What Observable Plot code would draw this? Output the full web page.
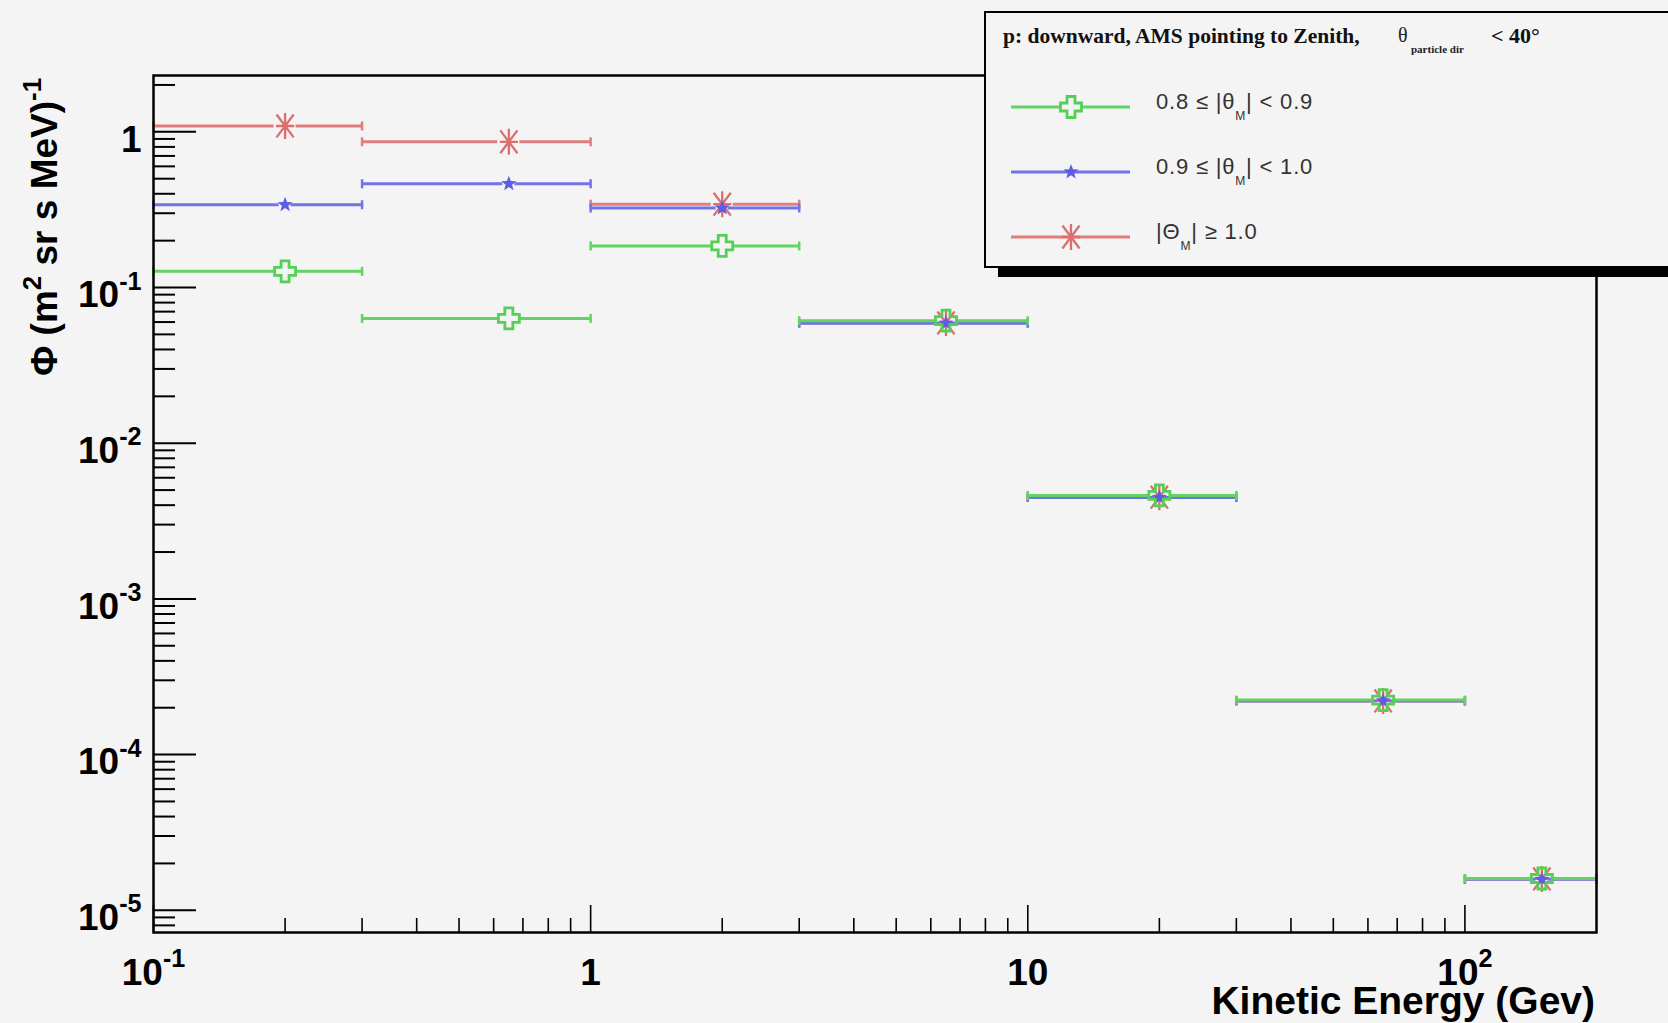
<!DOCTYPE html>
<html>
<head>
<meta charset="utf-8">
<script src="https://cdn.jsdelivr.net/npm/d3@7"></script>
<script src="https://cdn.jsdelivr.net/npm/@observablehq/plot@0.6"></script>
<style>
html,body{margin:0;padding:0;background:#f4f4f4;}
body{width:1668px;height:1023px;overflow:hidden;}
#chart svg{display:block;}
</style>
</head>
<body>
<div id="chart"></div>
<script>
// ---------------- data ----------------
const binLow    = [0.1, 0.3, 1, 3, 10, 30, 100];
const binHigh   = [0.3, 1, 3, 10, 30, 100, 200];
const binCenter = [0.2, 0.65, 2, 6.5, 20, 65, 150];

const fluxGreen = [0.127, 0.0633, 0.185, 0.0612, 0.00462, 2.24e-4, 1.60e-5];
const fluxBlue  = [0.340, 0.464, 0.324, 0.0590, 0.00448, 2.21e-4, 1.58e-5];
const fluxRed   = [1.09, 0.863, 0.343, 0.0592, 0.00450, 2.21e-4, 1.59e-5];

const seriesLabels = ["0.8 \u2264 |\u03b8_{M}| < 0.9", "0.9 \u2264 |\u03b8_{M}| < 1.0", "|\u0398_{M}| \u2265 1.0"];
const legendTitle = "p: downward, AMS pointing to Zenith,";
const legendCut = ["\u03b8", "particle dir", "< 40\u00b0"];

const xMajorTicks = [0.1, 1, 10, 100];
const xTickLabels = ["10^{-1}", "1", "10", "10^{2}"];
const xMinorTicks = [0.2, 0.3, 0.4, 0.5, 0.6, 0.7, 0.8, 0.9, 2, 3, 4, 5, 6, 7, 8, 9, 20, 30, 40, 50, 60, 70, 80, 90];
const yMajorTicks = [1e-5, 1e-4, 1e-3, 1e-2, 1e-1, 1];
const yTickLabels = ["10^{-5}", "10^{-4}", "10^{-3}", "10^{-2}", "10^{-1}", "1"];
const yMinorTicks = [8e-6, 9e-6,
  2e-5, 3e-5, 4e-5, 5e-5, 6e-5, 7e-5, 8e-5, 9e-5,
  2e-4, 3e-4, 4e-4, 5e-4, 6e-4, 7e-4, 8e-4, 9e-4,
  2e-3, 3e-3, 4e-3, 5e-3, 6e-3, 7e-3, 8e-3, 9e-3,
  2e-2, 3e-2, 4e-2, 5e-2, 6e-2, 7e-2, 8e-2, 9e-2,
  0.2, 0.3, 0.4, 0.5, 0.6, 0.7, 0.8, 0.9, 2];
const xTitle = "Kinetic Energy (Gev)";
const yTitle = "\u03a6 (m^{2} sr s MeV)^{-1}";

// ---------------- symbols ----------------
const rOf = (size) => Math.sqrt(size / Math.PI);
const capSymbol = {draw(c, s) { const r = rOf(s); c.moveTo(0, -r); c.lineTo(0, r); }};
const openCross = {draw(c, s) { const r = rOf(s), a = 0.38 * r;
  c.moveTo(-a, -r); c.lineTo(a, -r); c.lineTo(a, -a); c.lineTo(r, -a); c.lineTo(r, a); c.lineTo(a, a);
  c.lineTo(a, r); c.lineTo(-a, r); c.lineTo(-a, a); c.lineTo(-r, a); c.lineTo(-r, -a); c.lineTo(-a, -a); c.closePath(); }};
const star5 = {draw(c, s) { const r = rOf(s), ri = 0.42 * r;
  for (let i = 0; i < 10; i++) { const ang = -Math.PI / 2 + i * Math.PI / 5, rr = i % 2 ? ri : r;
    const x = rr * Math.cos(ang), y = rr * Math.sin(ang); if (i) c.lineTo(x, y); else c.moveTo(x, y); }
  c.closePath(); }};
const asterisk = {draw(c, s) { const r = rOf(s);
  c.moveTo(0, -r); c.lineTo(0, r);
  c.moveTo(-0.66 * r, -0.88 * r); c.lineTo(0.66 * r, 0.88 * r);
  c.moveTo(-0.66 * r, 0.88 * r); c.lineTo(0.66 * r, -0.88 * r);
  c.moveTo(-0.7 * r, 0); c.lineTo(0.7 * r, 0); }};

const styles = [
  {color: "#62d462", symbol: openCross, r: 10.5, fill: "none", stroke: "#55cf55", sw: 2.8, gap: 11},
  {color: "#7373e6", symbol: star5, r: 8, fill: "#5d5de3", stroke: "none", sw: 0, gap: 6},
  {color: "#e17d7d", symbol: asterisk, r: 13, fill: "none", stroke: "#dc6e6e", sw: 2.3, gap: 11}
];
const fluxes = [fluxGreen, fluxBlue, fluxRed];

const rows = fluxes.flatMap((f, si) => binCenter.map((c, i) => ({
  series: si, low: binLow[i], high: binHigh[i], center: c, flux: f[i]
})));

const drawOrder = [2, 1, 0];
const dataMarks = drawOrder.flatMap(k => {
  const st = styles[k];
  const d = rows.filter(r => r.series === k);
  return [
    Plot.ruleY(d, {y: "flux", x1: "low", x2: "center", insetRight: st.gap, stroke: st.color, strokeWidth: 3}),
    Plot.ruleY(d, {y: "flux", x1: "center", x2: "high", insetLeft: st.gap, stroke: st.color, strokeWidth: 3}),
    Plot.dot(d, {x: "low", y: "flux", symbol: capSymbol, r: 4.5, stroke: st.color, fill: "none", strokeWidth: 2.5}),
    Plot.dot(d, {x: "high", y: "flux", symbol: capSymbol, r: 4.5, stroke: st.color, fill: "none", strokeWidth: 2.5}),
    Plot.dot(d, {x: "center", y: "flux", symbol: st.symbol, r: st.r, fill: st.fill, stroke: st.stroke, strokeWidth: st.sw})
  ];
});

const FONT = "'Liberation Sans', Arial, Helvetica, sans-serif";
const TICKFONT = 37;
const chart = Plot.plot({
  width: 1668, height: 1023,
  marginLeft: 153, marginRight: 72, marginTop: 75, marginBottom: 91,
  style: {background: "#f4f4f4", fontFamily: FONT, color: "#000", overflow: "visible"},
  x: {type: "log", domain: [0.1, 200], label: null},
  y: {type: "log", domain: [7.2e-6, 2.3], label: null},
  marks: [
    Plot.axisY(yMinorTicks, {anchor: "left", tickSize: -22, fill: "none", strokeWidth: 2}),
    Plot.axisY(yMajorTicks, {anchor: "left", tickSize: -43, fill: "none", strokeWidth: 2}),
    Plot.axisY(yMajorTicks, {anchor: "left", tickSize: 0, tickPadding: 12, dy: 8, fontSize: TICKFONT, fontWeight: "bold",
      tickFormat: d => yTickLabels[yMajorTicks.indexOf(d)]}),
    Plot.axisX(xMinorTicks, {anchor: "bottom", tickSize: -14, fill: "none", strokeWidth: 1.6}),
    Plot.axisX(xMajorTicks, {anchor: "bottom", tickSize: -27, fill: "none", strokeWidth: 1.6}),
    Plot.axisX(xMajorTicks, {anchor: "bottom", tickSize: 0, tickPadding: 26, fontSize: TICKFONT, fontWeight: "bold",
      tickFormat: d => xTickLabels[xMajorTicks.indexOf(d)]}),
    ...dataMarks,
    Plot.frame({stroke: "#000", strokeWidth: 2.5})
  ]
});
document.getElementById("chart").appendChild(chart);

// ---------------- rich text (super/subscripts) ----------------
const NS = "http://www.w3.org/2000/svg";
function rich(el, str, F, opt = {}) {
  const supShift = opt.sup ?? 0.5, subShift = opt.sub ?? 0.4, small = opt.small ?? 0.65;
  el.textContent = "";
  const re = /([\^_])\{([^}]*)\}/g;
  let last = 0, m, shift = 0;
  const add = (txt, type) => {
    const t = document.createElementNS(NS, "tspan");
    t.textContent = txt;
    const target = type === "^" ? -supShift * F : type === "_" ? subShift * F : 0;
    if (type) t.setAttribute("font-size", small * F);
    const dy = target - shift;
    if (dy) t.setAttribute("dy", dy);
    shift = target;
    el.appendChild(t);
  };
  while ((m = re.exec(str))) {
    if (m.index > last) add(str.slice(last, m.index), null);
    add(m[2], m[1]);
    last = re.lastIndex;
  }
  if (last < str.length) add(str.slice(last), null);
}
d3.select(chart).selectAll("text").each(function() {
  const s = this.textContent;
  if (s.includes("^{")) rich(this, s, TICKFONT, {sup: 0.48, small: 0.68});
});

const svg = d3.select(chart);
// axis titles
const yt = svg.append("text")
  .attr("transform", "translate(57,227) rotate(-90)")
  .attr("text-anchor", "middle").attr("font-size", 37).attr("font-weight", "bold")
  .attr("font-family", FONT).attr("fill", "#000");
rich(yt.node(), yTitle, 37, {sup: 0.42, small: 0.7});
svg.append("text").attr("x", 1595).attr("y", 1014).attr("text-anchor", "end")
  .attr("font-size", 39).attr("font-weight", "bold").attr("font-family", FONT).attr("fill", "#000")
  .text(xTitle);

// ---------------- legend ----------------
const lg = svg.append("g").attr("class", "legend").attr("text-anchor", "start");
lg.append("rect").attr("x", 998).attr("y", 22).attr("width", 720).attr("height", 255).attr("fill", "#000");
lg.append("rect").attr("x", 985).attr("y", 12).attr("width", 720).attr("height", 255)
  .attr("fill", "#f4f4f4").attr("stroke", "#000").attr("stroke-width", 2);
const SERIF = "'Liberation Serif', 'Times New Roman', serif";
lg.append("text").attr("x", 1003).attr("y", 43).attr("text-anchor", "start").attr("font-family", SERIF).attr("font-weight", "bold")
  .attr("font-size", 21.5).attr("fill", "#111").text(legendTitle);
lg.append("text").attr("x", 1398).attr("y", 42).attr("text-anchor", "start").attr("font-family", SERIF)
  .attr("font-size", 20).attr("fill", "#222").text(legendCut[0]);
lg.append("text").attr("x", 1411).attr("y", 53).attr("text-anchor", "start").attr("font-family", SERIF).attr("font-weight", "bold")
  .attr("font-size", 11).attr("fill", "#222").text(legendCut[1]);
lg.append("text").attr("x", 1491).attr("y", 43).attr("text-anchor", "start").attr("font-family", SERIF).attr("font-weight", "bold")
  .attr("font-size", 22).attr("fill", "#111").text(legendCut[2]);

const rowY = [107, 172, 237];
styles.forEach((st, i) => {
  const y = rowY[i];
  lg.append("line").attr("x1", 1011).attr("x2", 1130).attr("y1", y).attr("y2", y)
    .attr("stroke", st.color).attr("stroke-width", 3);
  lg.append("path").attr("transform", `translate(1071,${y})`)
    .attr("d", d3.symbol(st.symbol, Math.PI * st.r * st.r)())
    .attr("fill", st.fill === "none" ? "#f4f4f4" : st.fill).attr("stroke", st.stroke).attr("stroke-width", st.sw);
  const t = lg.append("text").attr("x", 1156).attr("y", y + 2).attr("text-anchor", "start").attr("font-family", FONT)
    .attr("font-size", 22).attr("letter-spacing", 0.8).attr("fill", "#333");
  rich(t.node(), seriesLabels[i], 22, {sub: 0.5, small: 0.55});
});
</script>
</body>
</html>
